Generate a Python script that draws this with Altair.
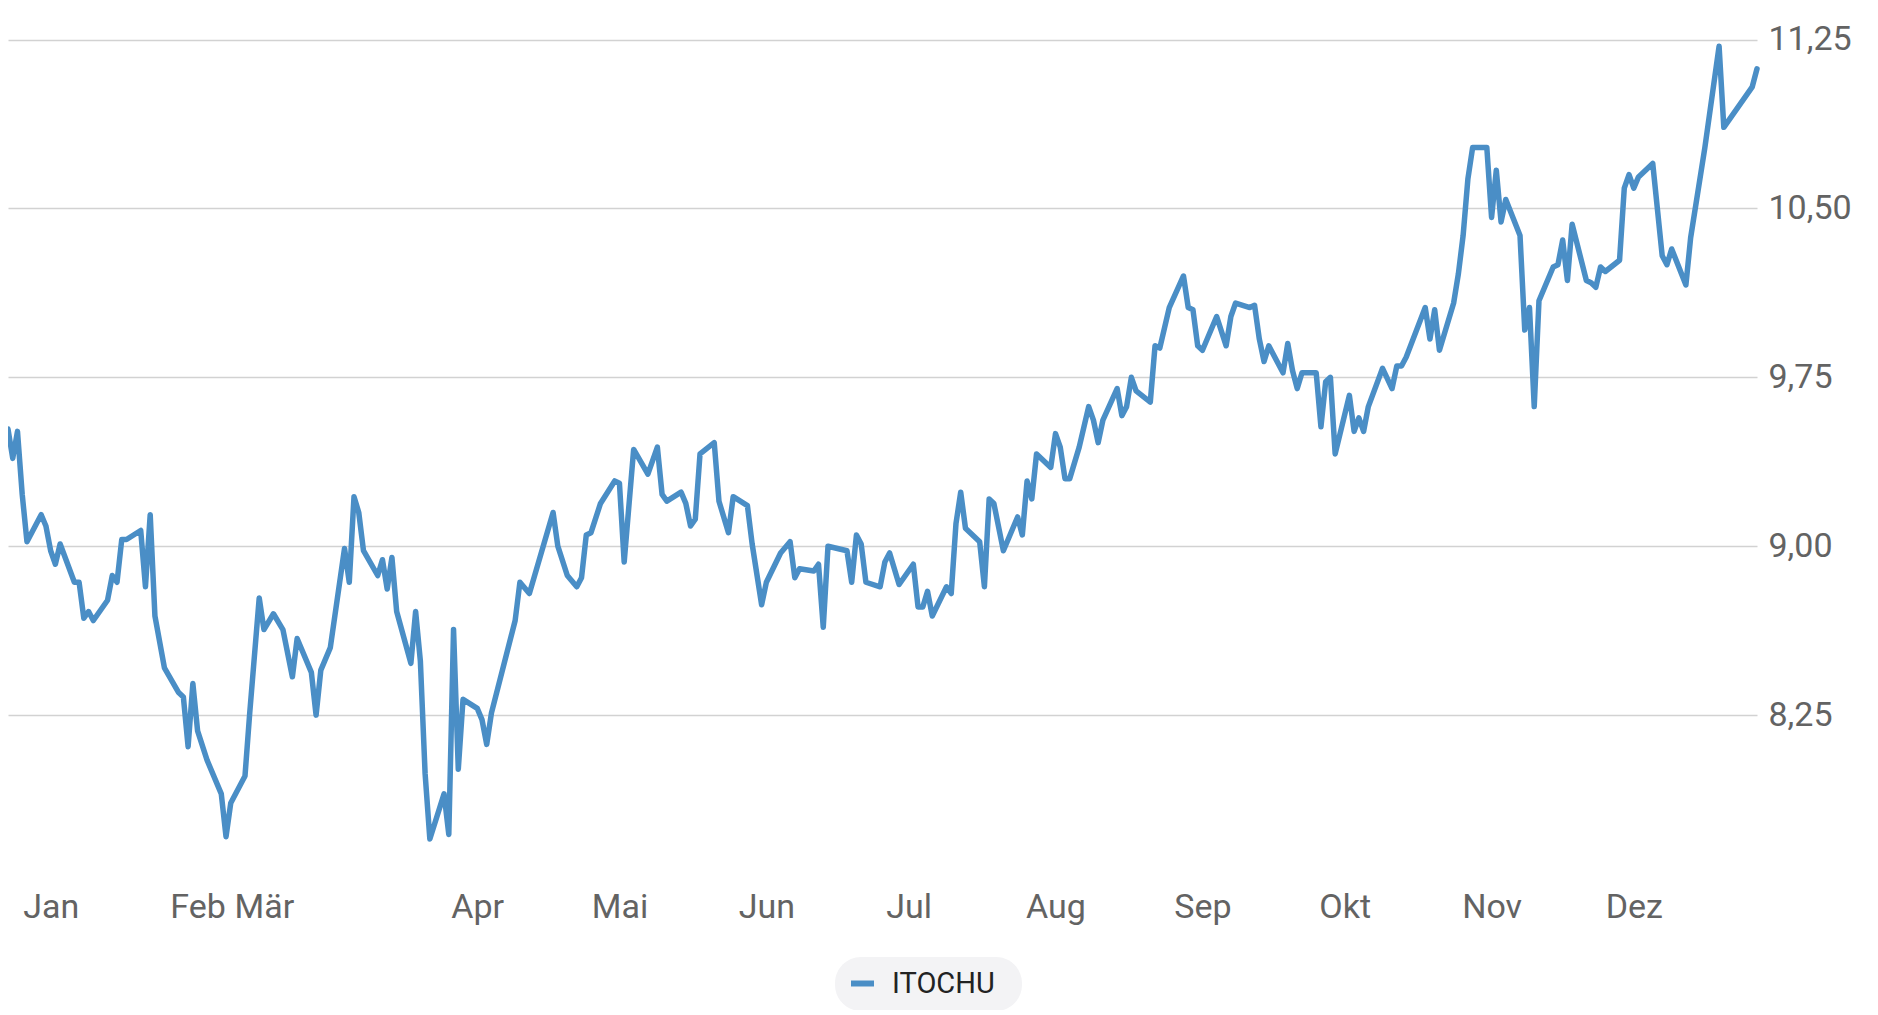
import altair as alt
import pandas as pd

series_name = "ITOCHU"

dates = [
    "2022-12-23", "2022-12-24", "2022-12-25", "2022-12-26", "2022-12-27", "2022-12-30", "2022-12-31",
    "2023-01-01", "2023-01-02", "2023-01-03", "2023-01-06", "2023-01-07", "2023-01-08", "2023-01-09",
    "2023-01-10", "2023-01-13", "2023-01-14", "2023-01-15", "2023-01-16", "2023-01-17", "2023-01-20",
    "2023-01-21", "2023-01-22", "2023-01-23", "2023-01-25", "2023-01-28", "2023-01-29", "2023-01-30",
    "2023-01-31", "2023-02-01", "2023-02-03", "2023-02-06", "2023-02-07", "2023-02-08", "2023-02-11",
    "2023-02-12", "2023-02-14", "2023-02-15", "2023-02-17", "2023-02-19", "2023-02-21", "2023-02-22",
    "2023-02-25", "2023-02-26", "2023-02-27", "2023-03-01", "2023-03-04", "2023-03-05", "2023-03-06",
    "2023-03-07", "2023-03-08", "2023-03-11", "2023-03-12", "2023-03-13", "2023-03-14", "2023-03-15",
    "2023-03-18", "2023-03-19", "2023-03-20", "2023-03-21", "2023-03-22", "2023-03-25", "2023-03-26",
    "2023-03-27", "2023-03-28", "2023-03-29", "2023-04-01", "2023-04-02", "2023-04-03", "2023-04-04",
    "2023-04-09", "2023-04-10", "2023-04-12", "2023-04-17", "2023-04-18", "2023-04-20", "2023-04-22",
    "2023-04-23", "2023-04-24", "2023-04-25", "2023-04-27", "2023-04-30", "2023-05-01", "2023-05-02",
    "2023-05-04", "2023-05-07", "2023-05-09", "2023-05-10", "2023-05-11", "2023-05-14", "2023-05-15",
    "2023-05-16", "2023-05-17", "2023-05-18", "2023-05-21", "2023-05-22", "2023-05-24", "2023-05-25",
    "2023-05-28", "2023-05-29", "2023-05-31", "2023-06-01", "2023-06-04", "2023-06-06", "2023-06-07",
    "2023-06-08", "2023-06-11", "2023-06-12", "2023-06-13", "2023-06-14", "2023-06-18", "2023-06-19",
    "2023-06-20", "2023-06-21", "2023-06-22", "2023-06-25", "2023-06-26", "2023-06-27", "2023-06-29",
    "2023-07-02", "2023-07-03", "2023-07-04", "2023-07-05", "2023-07-06", "2023-07-09", "2023-07-10",
    "2023-07-11", "2023-07-12", "2023-07-13", "2023-07-16", "2023-07-17", "2023-07-18", "2023-07-19",
    "2023-07-21", "2023-07-24", "2023-07-25", "2023-07-26", "2023-07-27", "2023-07-28", "2023-07-31",
    "2023-08-01", "2023-08-02", "2023-08-03", "2023-08-04", "2023-08-06", "2023-08-08", "2023-08-09",
    "2023-08-10", "2023-08-11", "2023-08-14", "2023-08-15", "2023-08-16", "2023-08-17", "2023-08-18",
    "2023-08-21", "2023-08-22", "2023-08-23", "2023-08-25", "2023-08-28", "2023-08-29", "2023-08-30",
    "2023-08-31", "2023-09-01", "2023-09-04", "2023-09-06", "2023-09-07", "2023-09-08", "2023-09-11",
    "2023-09-12", "2023-09-13", "2023-09-14", "2023-09-15", "2023-09-18", "2023-09-19", "2023-09-20",
    "2023-09-21", "2023-09-22", "2023-09-25", "2023-09-26", "2023-09-27", "2023-09-28", "2023-09-29",
    "2023-10-02", "2023-10-03", "2023-10-04", "2023-10-05", "2023-10-06", "2023-10-09", "2023-10-11",
    "2023-10-12", "2023-10-13", "2023-10-14", "2023-10-18", "2023-10-19", "2023-10-20", "2023-10-21",
    "2023-10-24", "2023-10-25", "2023-10-26", "2023-10-27", "2023-10-28", "2023-10-31", "2023-11-01",
    "2023-11-02", "2023-11-03", "2023-11-04", "2023-11-07", "2023-11-08", "2023-11-09", "2023-11-10",
    "2023-11-11", "2023-11-14", "2023-11-15", "2023-11-16", "2023-11-17", "2023-11-18", "2023-11-21",
    "2023-11-22", "2023-11-23", "2023-11-24", "2023-11-25", "2023-11-28", "2023-11-29", "2023-11-30",
    "2023-12-01", "2023-12-02", "2023-12-05", "2023-12-07", "2023-12-08", "2023-12-09", "2023-12-12",
    "2023-12-13", "2023-12-16", "2023-12-19", "2023-12-20", "2023-12-26", "2023-12-27",
]

prices = [
    9.52, 9.39, 9.51, 9.23, 9.02, 9.14, 9.09,
    8.98, 8.92, 9.01, 8.84, 8.84, 8.68, 8.71,
    8.67, 8.76, 8.87, 8.84, 9.03, 9.03, 9.07,
    8.82, 9.14, 8.69, 8.46, 8.35, 8.33, 8.11,
    8.39, 8.18, 8.05, 7.90, 7.71, 7.86, 7.98,
    8.26, 8.77, 8.63, 8.70, 8.63, 8.42, 8.59,
    8.44, 8.25, 8.45, 8.55, 8.99, 8.84, 9.22,
    9.15, 8.98, 8.87, 8.94, 8.81, 8.95, 8.71,
    8.48, 8.71, 8.49, 7.99, 7.70, 7.90, 7.72,
    8.63, 8.01, 8.32, 8.28, 8.23, 8.12, 8.26,
    8.67, 8.84, 8.79, 9.15, 9.00, 8.87, 8.82,
    8.86, 9.05, 9.06, 9.19, 9.29, 9.28, 8.93,
    9.43, 9.32, 9.44, 9.23, 9.20, 9.24, 9.19,
    9.09, 9.12, 9.41, 9.46, 9.20, 9.06, 9.22,
    9.18, 9.01, 8.74, 8.84, 8.97, 9.02, 8.86,
    8.90, 8.89, 8.92, 8.64, 9.00, 8.98, 8.84,
    9.05, 9.01, 8.84, 8.82, 8.93, 8.97, 8.83,
    8.92, 8.73, 8.73, 8.80, 8.69, 8.82, 8.79,
    9.10, 9.24, 9.08, 9.02, 8.82, 9.21, 9.19,
    8.98, 9.13, 9.05, 9.29, 9.21, 9.41, 9.35,
    9.50, 9.44, 9.30, 9.30, 9.44, 9.62, 9.56,
    9.46, 9.56, 9.70, 9.58, 9.62, 9.75, 9.69,
    9.64, 9.89, 9.88, 10.06, 10.20, 10.06, 10.05,
    9.89, 9.87, 10.02, 9.89, 10.02, 10.08, 10.06,
    10.07, 9.92, 9.82, 9.89, 9.77, 9.90, 9.78,
    9.70, 9.77, 9.77, 9.53, 9.73, 9.75, 9.41,
    9.67, 9.51, 9.57, 9.51, 9.62, 9.79, 9.70,
    9.80, 9.80, 9.84, 10.06, 9.92, 10.05, 9.87,
    10.08, 10.21, 10.38, 10.63, 10.77, 10.77, 10.46,
    10.67, 10.44, 10.54, 10.38, 9.96, 10.06, 9.62,
    10.09, 10.24, 10.25, 10.36, 10.18, 10.43, 10.18,
    10.17, 10.15, 10.24, 10.22, 10.27, 10.59, 10.65,
    10.59, 10.64, 10.70, 10.29, 10.25, 10.32, 10.16,
    10.37, 10.77, 11.22, 10.86, 11.04, 11.12,
]

tick_dates = ["2023-01-01", "2023-02-01", "2023-02-15", "2023-04-01", "2023-05-01", "2023-06-01",
              "2023-07-01", "2023-08-01", "2023-09-01", "2023-10-01", "2023-11-01", "2023-12-01"]
tick_labels = ["Jan", "Feb", "Mär", "Apr", "Mai", "Jun", "Jul", "Aug", "Sep", "Okt", "Nov", "Dez"]
y_ticks = [8.25, 9.00, 9.75, 10.50, 11.25]
x_range = ["2022-12-23", "2023-12-27"]
y_range = [7.58, 11.39]

df = pd.DataFrame({"date": dates, "price": prices, "series": series_name})


def dt(s):
    t = pd.Timestamp(s)
    return alt.DateTime(year=t.year, month=t.month, date=t.day, utc=True)


def ms(s):
    return int(pd.Timestamp(s, tz="UTC").value // 10**6)


label_expr = " : ".join(
    f"abs(datum.value - {ms(d)}) < 3600000 ? '{lab}'" for d, lab in zip(tick_dates, tick_labels)
) + " : ''"

FONT = "Roboto"
BLUE = "#4a8ec6"

chart = alt.Chart(df).mark_line(
    strokeWidth=5.5, strokeJoin="round", strokeCap="round"
).encode(
    x=alt.X(
        "date:T",
        scale=alt.Scale(type="utc", domain=[dt(x_range[0]), dt(x_range[1])]),
        axis=alt.Axis(
            values=[dt(d) for d in tick_dates],
            labelExpr=label_expr,
            title=None,
            grid=False,
            ticks=False,
            tickSize=0,
            domain=False,
            labelFont=FONT,
            labelFontSize=34,
            labelColor="#636363",
            labelPadding=51,
            labelBaseline="alphabetic",
            labelAlign="center",
            labelOverlap=False,
            labelFlush=False,
        ),
    ),
    y=alt.Y(
        "price:Q",
        scale=alt.Scale(domain=y_range, nice=False, zero=False),
        axis=alt.Axis(
            orient="right",
            values=y_ticks,
            labelExpr="replace(format(datum.value, '.2f'), '.', ',')",
            title=None,
            grid=True,
            gridColor="#d2d2d2",
            gridWidth=1.3,
            ticks=False,
            tickSize=0,
            domain=False,
            labelFont=FONT,
            labelFontSize=34,
            labelColor="#636363",
            labelPadding=11,
            labelBaseline="middle",
            labelAlign="left",
            labelFlush=False,
        ),
    ),
    color=alt.Color(
        "series:N",
        scale=alt.Scale(range=[BLUE]),
        legend=alt.Legend(
            title=None,
            orient="none",
            legendX=827,
            legendY=949,
            fillColor="#f3f3f5",
            cornerRadius=26,
            padding=12,
            symbolType="stroke",
            symbolStrokeWidth=6,
            symbolSize=529,
            symbolOffset=1,
            labelFont=FONT,
            labelFontSize=29,
            labelColor="#222222",
            labelOffset=15,
            labelExpr="datum.label + '\u2002\u200b'",
        ),
    ),
).properties(
    width=1749,
    height=858,
    padding={"left": 0, "top": 0, "right": 106, "bottom": 144},
    autosize=alt.AutoSizeParams(type="none"),
    background="white",
).configure_view(stroke=None)

chart.save("out.html", embed_options={"renderer": "svg", "actions": False})
